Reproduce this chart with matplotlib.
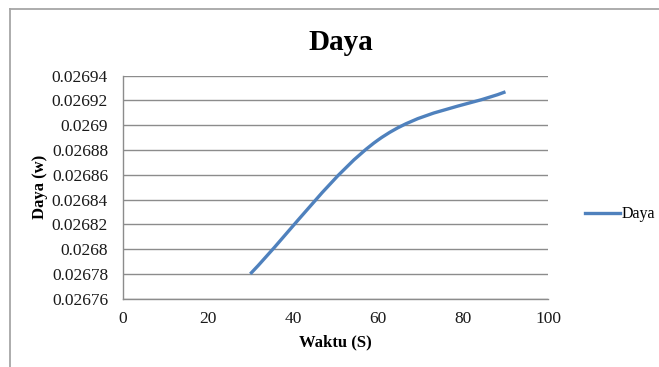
import numpy as np
import matplotlib
matplotlib.use("Agg")
import matplotlib.pyplot as plt
from matplotlib.path import Path
from matplotlib.patches import PathPatch
from matplotlib.lines import Line2D
from matplotlib.ticker import FixedLocator, FixedFormatter

# Measured power over time
waktu = [30, 60, 90]
daya = [0.02678, 0.026888, 0.026927]

x_ticks = [0, 20, 40, 60, 80, 100]
y_ticks = [0.02676, 0.02678, 0.0268, 0.02682, 0.02684, 0.02686,
           0.02688, 0.0269, 0.02692, 0.02694]
y_tick_labels = ["0.02676", "0.02678", "0.0268", "0.02682", "0.02684",
                 "0.02686", "0.02688", "0.0269", "0.02692", "0.02694"]

plt.rcParams["font.family"] = ["Liberation Serif", "DejaVu Serif"]

fig = plt.figure(figsize=(6.59, 3.67), dpi=100)
fig.patch.set_facecolor("white")

# chart-area frame (top and left edges visible)
frame_col = "#a6a6a6"
fig.add_artist(Line2D([9.5 / 659, 1.0], [1 - 8.5 / 367] * 2,
                      color=frame_col, lw=1.3, transform=fig.transFigure))
fig.add_artist(Line2D([9.5 / 659] * 2, [0.0, 1 - 8.5 / 367],
                      color=frame_col, lw=1.3, transform=fig.transFigure))

ax = fig.add_axes([122.7 / 659, 1 - 298.7 / 367,
                   (548 - 122.7) / 659, (298.7 - 75.7) / 367])
ax.set_xlim(x_ticks[0], x_ticks[-1])
ax.set_ylim(y_ticks[0], y_ticks[-1])

ax.xaxis.set_major_locator(FixedLocator(x_ticks))
ax.yaxis.set_major_locator(FixedLocator(y_ticks))
ax.yaxis.set_major_formatter(FixedFormatter(y_tick_labels))
ax.tick_params(axis="both", length=0, labelsize=12.5, colors="#1a1a1a")
ax.tick_params(axis="y", pad=10.5)
ax.tick_params(axis="x", pad=9)

ax.grid(axis="y", color="#8c8c8c", lw=1.0)
ax.set_axisbelow(True)
for side in ("top", "right"):
    ax.spines[side].set_visible(False)
for side in ("left", "bottom"):
    ax.spines[side].set_color("#8c8c8c")
    ax.spines[side].set_linewidth(1.0)

# smoothed line through the data points (cubic Bezier segments)
pts = np.column_stack([waktu, daya]).astype(float)
n = len(pts)
verts = [tuple(pts[0])]
codes = [Path.MOVETO]
for i in range(n - 1):
    p0, p1 = pts[i], pts[i + 1]
    if i == 0:
        c1 = p0 + (p1 - p0) / 3.0
    else:
        c1 = p0 + (p1 - pts[i - 1]) / 6.0
    if i + 1 == n - 1:
        c2 = p1 - (p1 - p0) / 3.0
    else:
        c2 = p1 - (pts[i + 2] - p0) / 6.0
    verts += [tuple(c1), tuple(c2), tuple(p1)]
    codes += [Path.CURVE4] * 3
curve = PathPatch(Path(verts, codes), facecolor="none", edgecolor="#4f81bd",
                  lw=2.4, capstyle="butt", transform=ax.transData)
curve.set_clip_on(False)
ax.add_patch(curve)

ax.set_xlabel("Waktu (S)", fontsize=12, fontweight="bold", labelpad=5)
ax.set_ylabel("Daya (w)", fontsize=12, fontweight="bold", labelpad=3)

fig.text(341 / 659, 1 - 49.5 / 367, "Daya", fontsize=21, fontweight="bold",
         ha="center", va="baseline")

# legend
legend_handle = Line2D([], [], color="#4f81bd", lw=2.4)
fig.legend([legend_handle], ["Daya"], loc="center left",
           bbox_to_anchor=(585 / 659, 1 - 214.5 / 367), frameon=False,
           fontsize=11.5, handlelength=2.2, handletextpad=0.12,
           borderpad=0, borderaxespad=0)

fig.savefig("out.png", dpi=100)
